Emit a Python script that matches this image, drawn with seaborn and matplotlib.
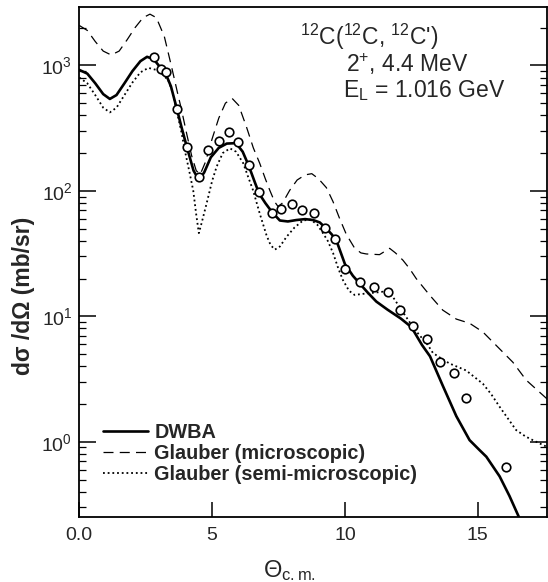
import numpy as np
import pandas as pd
import matplotlib
matplotlib.use("Agg")
import matplotlib.pyplot as plt
import seaborn as sns
from matplotlib import ticker

# measured cross sections (open circles)
theta_data = [2.82, 3.07, 3.25, 3.66, 4.07, 4.50, 4.83, 5.25, 5.63, 5.98, 6.38, 6.77,
              7.27, 7.58, 8.01, 8.40, 8.83, 9.26, 9.64, 10.01, 10.55, 11.08, 11.62,
              12.08, 12.56, 13.10, 13.59, 14.09, 14.56, 16.07]
sigma_data = [1160, 934, 880, 449, 224, 128, 211, 251, 293, 243, 161, 98,
              67, 71, 78.5, 70, 66, 50.8, 41.3, 23.8, 18.9, 17.2, 15.7,
              11.2, 8.4, 6.6, 4.3, 3.5, 2.25, 0.63]

# DWBA (solid)
theta_dwba = [0.0, 0.3, 0.6, 0.9, 1.15, 1.4, 1.7, 2.0, 2.3, 2.55, 2.8, 3.07, 3.25, 3.45,
              3.66, 3.85, 4.07, 4.3, 4.5, 4.7, 4.95, 5.25, 5.55, 5.9, 6.15, 6.38, 6.6,
              6.77, 7.0, 7.27, 7.55, 7.85, 8.17, 8.5, 8.8, 9.05, 9.3, 9.5, 9.68, 10.0,
              10.3, 10.55, 10.85, 11.18, 11.6, 12.1, 12.5, 12.9, 13.2, 13.68, 14.19,
              14.69, 15.06, 15.32, 15.82, 16.19, 16.55]
sigma_dwba = [920, 860, 720, 590, 540, 580, 720, 900, 1080, 1170, 1120, 950, 860, 680,
              460, 320, 215, 145, 122, 140, 185, 220, 238, 240, 205, 158, 118,
              95, 80, 67, 58, 57, 58.5, 59.5, 58.5, 56, 50, 45, 40, 26,
              21, 18.3, 15.5, 13.1, 11.3, 9.6, 8.2, 5.9, 4.8, 2.8, 1.6,
              1.03, 0.86, 0.76, 0.53, 0.37, 0.25]

# Glauber microscopic (dashed)
theta_micro = [0.0, 0.3, 0.6, 0.9, 1.2, 1.5, 1.8, 2.1, 2.4, 2.66, 2.9, 3.2, 3.47, 3.7,
               3.85, 4.05, 4.23, 4.4, 4.55, 4.75, 5.0, 5.25, 5.5, 5.75, 6.0, 6.29, 6.55,
               6.79, 7.0, 7.17, 7.35, 7.48, 7.65, 7.92, 8.2, 8.5, 8.75, 9.0, 9.3, 9.55,
               9.8, 10.05, 10.36, 10.6, 10.8, 11.3, 11.68, 11.9, 12.18, 12.43, 12.68,
               13.18, 13.68, 14.19, 14.69, 15.19, 15.82, 16.32, 16.82, 17.6]
sigma_micro = [2080, 1900, 1550, 1300, 1210, 1300, 1600, 2000, 2400, 2560, 2400, 1700, 980, 600,
               440, 280, 190, 145, 135, 170, 260, 380, 500, 546, 480, 324, 220,
               166, 125, 101, 82, 75, 80, 101, 122, 134, 137, 125, 106, 82,
               60, 45, 35, 32, 31.4, 31, 34.8, 32, 28, 24, 20,
               14.8, 11.2, 9.5, 8.8, 7.5, 5.5, 4.3, 3.1, 2.2]

# Glauber semi-microscopic (dotted)
theta_semi = [0.0, 0.3, 0.6, 0.9, 1.15, 1.4, 1.7, 2.0, 2.3, 2.6, 2.9, 3.15, 3.35, 3.5,
              3.66, 3.85, 3.97, 4.15, 4.29, 4.4, 4.5, 4.6, 4.79, 5.0, 5.17, 5.4, 5.67,
              5.9, 6.17, 6.35, 6.54, 6.8, 7.05, 7.2, 7.36, 7.55, 7.8, 8.1, 8.42, 8.7,
              8.95, 9.17, 9.35, 9.55, 9.75, 9.92, 10.15, 10.36, 10.8, 11.2, 11.43, 11.8,
              12.18, 12.43, 12.68, 13.12, 13.31, 13.7, 13.94, 14.56, 15.19, 15.5, 15.82,
              16.44, 16.8, 17.07, 17.6]
sigma_semi = [800, 720, 580, 460, 422, 460, 580, 730, 880, 955, 920, 840, 760, 620,
              440, 290, 211, 140, 100, 65, 46, 55, 79, 120, 156, 200, 218,
              205, 166, 130, 101, 65, 44, 37, 34, 36, 43, 51, 58, 59,
              54, 46, 40, 32, 24, 19.5, 16, 14.8, 15.2, 15.5, 15.7, 14.3,
              10.8, 9, 7.6, 5.9, 5.1, 4.5, 4.2, 3.7, 2.9, 2.4, 1.9,
              1.24, 1.1, 1.03, 0.91]

sns.set_style("ticks")
plt.rcParams["font.family"] = ["Liberation Sans", "DejaVu Sans"]
plt.rcParams["mathtext.fontset"] = "custom"
plt.rcParams["mathtext.rm"] = "Liberation Sans"
plt.rcParams["mathtext.it"] = "Liberation Sans:italic"
plt.rcParams["mathtext.bf"] = "Liberation Sans:bold"

fig = plt.figure(figsize=(5.48, 5.82), dpi=100)
ax = fig.add_axes([0.1447, 0.1112, 0.8533, 0.8768])
ax.set_axisbelow(False)

sns.lineplot(x=theta_dwba, y=sigma_dwba, ax=ax, color="black", lw=1.9,
             label="DWBA", sort=False, estimator=None)
sns.lineplot(x=theta_micro, y=sigma_micro, ax=ax, color="black", lw=0.9,
             label="Glauber (microscopic)", sort=False, estimator=None)
ax.lines[-1].set_linestyle((0, (8, 5)))
sns.lineplot(x=theta_semi, y=sigma_semi, ax=ax, color="black", lw=1.3,
             label="Glauber (semi-microscopic)", sort=False, estimator=None)
ax.lines[-1].set_linestyle((0, (1, 1.6)))
sns.scatterplot(x=theta_data, y=sigma_data, ax=ax, marker="o", s=38,
                facecolor="white", edgecolor="black", linewidth=1.2, zorder=5)

ax.set_yscale("log")
ax.set_xlim(0, 17.6)
ax.set_ylim(0.25, 2920)

ax.xaxis.set_major_locator(ticker.FixedLocator([0, 5, 10, 15]))
ax.set_xticklabels(["0.0", "5", "10", "15"])
ax.yaxis.set_major_locator(ticker.LogLocator(base=10, numticks=100))
ax.yaxis.set_minor_locator(ticker.LogLocator(base=10, subs=np.arange(2, 10), numticks=100))
ax.yaxis.set_minor_formatter(ticker.NullFormatter())
ax.yaxis.set_major_formatter(ticker.FuncFormatter(lambda v, p: r"$10^{%d}$" % round(np.log10(v))))

ax.yaxis.set_ticks_position("both")
ax.xaxis.set_ticks_position("bottom")
ax.tick_params(axis="y", which="major", direction="in", length=12, width=1.1,
               left=True, right=True, labelsize=14, pad=5, color="black")
ax.tick_params(axis="y", which="minor", direction="in", length=5, width=0.9,
               left=True, right=True, color="black")
ax.tick_params(axis="x", which="major", direction="in", length=11, width=1.1,
               top=False, labelsize=14, pad=7, color="black")
for s in ax.spines.values():
    s.set_linewidth(1.3)
    s.set_visible(True)
    s.set_color("black")

ax.set_ylabel("dσ /dΩ (mb/sr)", fontsize=16.5, fontweight="bold")
ax.yaxis.set_label_coords(-0.095, 0.434)
ax.set_xlabel(r"Θ$_{\rm c.m.}$", fontsize=17)
ax.xaxis.set_label_coords(0.45, -0.08)

ax.text(0.472, 0.925, r"$^{12}$C($^{12}$C, $^{12}$C')", transform=ax.transAxes,
        fontsize=16.5, va="baseline", ha="left")
ax.text(0.57, 0.873, r"2$^{+}$, 4.4 MeV", transform=ax.transAxes,
        fontsize=16.5, va="baseline", ha="left")
ax.text(0.564, 0.823, r"E$_{\rm L}$ = 1.016 GeV", transform=ax.transAxes,
        fontsize=16.5, va="baseline", ha="left")

leg = ax.legend(loc="upper left", bbox_to_anchor=(0.05, 0.185), frameon=False,
                prop={"weight": "bold", "size": 14.3}, handlelength=2.3,
                handletextpad=0.3, labelspacing=0.1, borderaxespad=0, borderpad=0)

fig.savefig("out.png", dpi=100)
